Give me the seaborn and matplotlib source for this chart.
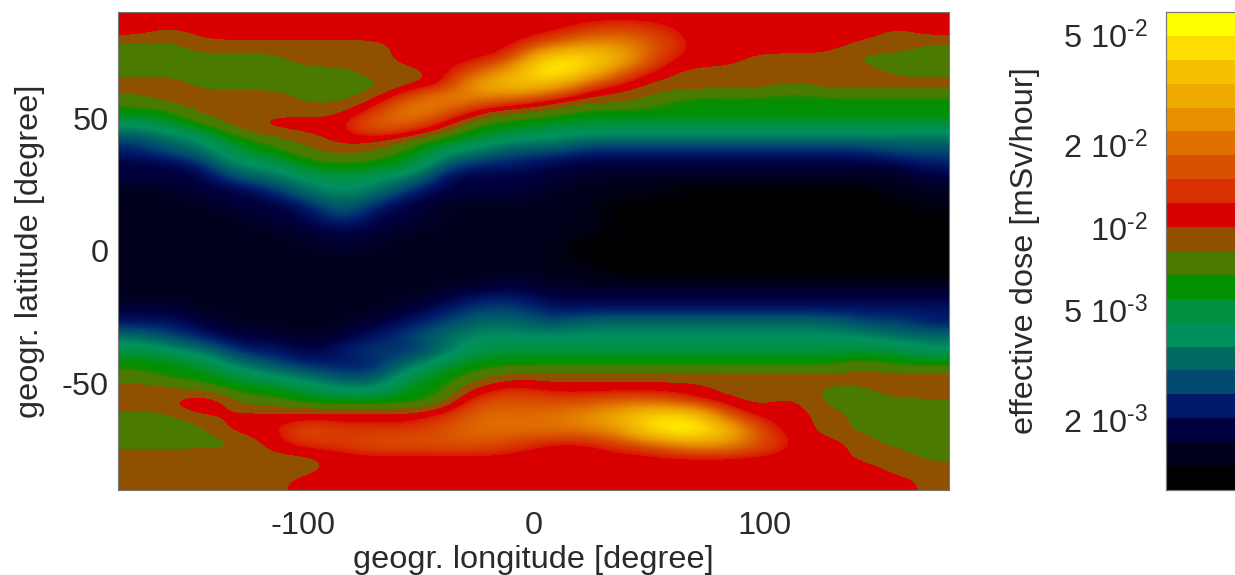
import numpy as np
import matplotlib
matplotlib.use("Agg")
import matplotlib.pyplot as plt
from matplotlib.colors import ListedColormap, LogNorm, to_rgb
from matplotlib.ticker import NullLocator
import seaborn as sns

# colour bands of the colour bar, bottom to top, with the dose (uSv/h) at each band's middle
band_colors = ["#000000", "#00001c", "#000040", "#001a6a", "#004a70", "#006a60", "#009060",
               "#009040", "#009000", "#4a7a00", "#8f5000", "#d80000", "#d83000", "#d85000",
               "#e07000", "#e89000", "#eeaa00", "#f5c000", "#ffdd00", "#ffff00"]
band_doses = [1.2, 1.5, 1.8, 2.2, 2.7, 3.4, 4.1, 5.0, 6.1, 7.5,
              9.2, 11.2, 14.0, 17.0, 20.0, 25.0, 31.0, 37.0, 46.0, 56.0]
dose_min, dose_max = 1.11e-3, 6.06e-2

# colour band read at each longitude (15 degree steps), latitude 87.5 down to -87.5 (5 degree steps)
bands_by_longitude = [
    [11,11,9,9,9,10,9,8,6,4,3,2,2,1,1,1,1,1, 1,1,1,1,2,3,5,7,8,9,10,10,9,9,9,10,10,10],
    [11,10,9,9,9,10,10,8,7,5,4,2,2,1,1,1,1,1, 1,1,1,1,2,3,4,6,8,8,10,10,9,9,9,10,10,10],
    [11,11,10,9,9,9,10,10,8,6,5,3,2,2,1,1,1,1, 1,1,1,1,1,2,3,5,7,8,9,12,10,9,9,10,10,10],
    [11,11,10,9,9,9,10,10,10,8,7,6,4,2,2,1,1,1, 1,1,1,1,1,1,2,3,5,7,8,9,11,11,9,10,10,10],
    [11,11,10,9,9,9,10,10,11,9,8,6,5,3,2,2,1,1, 1,1,1,1,1,1,2,3,4,6,8,9,11,11,11,10,10,10],
    [11,11,10,10,9,9,9,10,11,10,9,8,6,5,3,2,2,1, 1,1,1,1,1,1,1,2,3,5,7,8,11,13,12,10,10,11],
    [11,11,10,10,9,9,9,10,11,11,10,8,7,6,5,4,2,2, 1,1,1,1,1,1,2,3,3,4,6,8,11,12,12,11,11,11],
    [11,11,10,10,10,9,10,12,14,11,9,8,6,5,3,2,2,1, 1,1,1,1,1,2,3,4,3,4,6,8,11,12,13,11,11,11],
    [11,11,11,11,10,10,13,15,13,9,8,7,5,3,2,2,1,1, 1,1,1,1,2,3,4,3,5,7,8,8,11,12,13,11,11,11],
    [11,11,11,11,11,11,15,13,10,8,6,4,2,2,1,1,1,1, 1,1,1,2,3,4,5,5,7,8,8,9,12,13,13,11,11,11],
    [11,11,11,11,13,16,14,10,8,7,5,3,2,2,1,1,1,1, 1,1,1,3,4,5,6,7,8,9,11,13,14,14,13,11,11,11],
    [11,11,11,12,16,17,13,9,8,6,4,3,2,2,1,1,1,1, 1,1,2,3,4,5,6,7,8,10,12,13,14,14,12,11,11,11],
    [11,11,13,18,19,16,11,9,7,6,4,2,2,1,1,1,1,1, 1,1,1,2,3,4,6,7,8,10,11,13,14,14,11,11,11,11],
    [11,12,15,18,17,12,10,8,7,5,3,2,1,1,1,1,1,0, 0,1,1,2,3,5,6,7,8,10,11,13,15,14,11,11,11,11],
    [11,13,15,16,13,11,10,8,7,5,3,2,1,1,0,0,0,0, 0,0,1,2,3,5,6,7,8,10,11,14,16,15,12,11,11,11],
    [11,12,13,12,11,10,9,8,7,5,3,2,1,1,0,0,0,0, 0,0,1,2,3,5,6,7,8,10,11,14,18,18,13,11,11,11],
    [11,11,11,11,10,10,8,8,7,5,3,2,1,0,0,0,0,0, 0,0,1,2,3,5,6,7,8,10,11,12,18,19,15,11,11,11],
    [11,11,11,11,10,10,8,8,7,5,3,2,1,0,0,0,0,0, 0,0,1,2,3,5,6,7,8,10,10,11,13,17,15,11,11,11],
    [11,11,11,10,10,10,8,8,7,5,3,2,1,0,0,0,0,0, 0,0,1,2,3,5,6,7,8,10,10,10,11,12,13,11,11,11],
    [11,11,11,10,10,9,8,8,7,5,3,2,1,0,0,0,0,0, 0,0,1,2,3,5,6,7,8,10,10,11,11,11,11,11,11,11],
    [11,11,11,10,10,10,8,8,7,5,3,2,1,0,0,0,0,0, 0,0,1,2,3,5,6,7,8,10,9,9,10,10,11,11,11,11],
    [11,11,10,9,10,10,8,8,7,5,3,2,1,0,0,0,0,0, 0,0,1,2,3,4,6,7,9,10,9,9,9,9,10,10,11,11],
    [11,10,10,9,9,10,8,8,7,5,4,2,1,1,0,0,0,0, 0,0,1,2,3,4,5,7,8,10,10,9,9,9,9,10,10,11],
    [11,11,9,9,9,10,8,8,7,5,4,3,2,1,1,0,0,0, 0,0,1,2,3,3,5,6,8,10,10,9,9,9,9,9,10,10],
]
lon_step, lat_step = 15, 5
lon_ticks = [-100, 0, 100]
lat_ticks = [50, 0, -50]
cbar_ticks = [5e-2, 2e-2, 1e-2, 5e-3, 2e-3]
cbar_tick_labels = ["5 10$^{\\text{-2}}$", "2 10$^{\\text{-2}}$", "10$^{\\text{-2}}$",
                    "5 10$^{\\text{-3}}$", "2 10$^{\\text{-3}}$"]

dose = np.array(band_doses)[np.array(bands_by_longitude).T] * 1e-3

sns.set_theme(style="white")
plt.rcParams["font.family"] = ["Liberation Sans", "DejaVu Sans"]
plt.rcParams["mathtext.fontset"] = "custom"
plt.rcParams["mathtext.rm"] = "Liberation Sans"
plt.rcParams["mathtext.default"] = "regular"
text_color = "#2a2a2a"
fs = 23.4

W, H = 1235, 575
fig = plt.figure(figsize=(W / 100, H / 100), dpi=100, facecolor="white")
ax = fig.add_axes([118 / W, 1 - 490 / H, (949 - 118) / W, (490 - 12) / H])
cax = fig.add_axes([1166 / W, 1 - 490 / H, 80 / W, (490 - 12) / H])

cmap = ListedColormap(band_colors)
norm = LogNorm(vmin=dose_min, vmax=dose_max)
sns.heatmap(dose, ax=ax, cbar_ax=cax, cmap=cmap, norm=norm, xticklabels=False, yticklabels=False,
            cbar_kws={"ticks": cbar_ticks})

# The map blurs the narrow bands together but keeps olive, brown and red flat
n_bands = len(band_colors)
rgb = np.array([to_rgb(c) for c in band_colors])
pos = (np.arange(800) + 0.5) / 800 * n_bands
smooth = np.column_stack([np.interp(pos, np.arange(n_bands) + 0.5, rgb[:, k]) for k in range(3)])
for b in (9, 10, 11):
    smooth[np.floor(pos) == b] = rgb[b]
map_cmap = ListedColormap(smooth)

nrows, ncols = dose.shape
ax.imshow(dose, cmap=map_cmap, norm=norm, interpolation="bicubic", interpolation_stage="data",
          aspect="auto", extent=(0, ncols, nrows, 0), origin="upper", zorder=2)
ax.set_xlim(0, ncols)
ax.set_ylim(nrows, 0)

ax.set_xticks([(v + 180) / lon_step for v in lon_ticks])
ax.set_xticklabels([str(v) for v in lon_ticks], fontsize=fs, color=text_color)
ax.set_yticks([(90 - v) / lat_step for v in lat_ticks])
ax.set_yticklabels([str(v) for v in lat_ticks], fontsize=fs, color=text_color, rotation=0)
ax.tick_params(axis="x", length=0, pad=15)
ax.tick_params(axis="y", length=0, pad=7)
ax.set_xlabel("geogr. longitude [degree]", fontsize=fs, color=text_color, labelpad=3)
ax.set_ylabel("geogr. latitude [degree]", fontsize=fs, color=text_color, labelpad=12)
for s in ax.spines.values():
    s.set_visible(True)
    s.set_color("#777777")
    s.set_linewidth(0.8)
    s.set_zorder(5)

cax.yaxis.set_ticks_position("left")
cax.yaxis.set_label_position("left")
cax.yaxis.set_minor_locator(NullLocator())
cax.set_yticks(cbar_ticks)
cax.set_yticklabels(cbar_tick_labels, fontsize=fs, color=text_color)
cax.tick_params(axis="y", length=0, pad=13)
cax.set_ylabel("effective dose [mSv/hour]", fontsize=fs, color=text_color, labelpad=17)
for s in cax.spines.values():
    s.set_visible(True)
    s.set_color("#777777")
    s.set_linewidth(0.8)

fig.savefig("out.png", dpi=100, facecolor="white")
